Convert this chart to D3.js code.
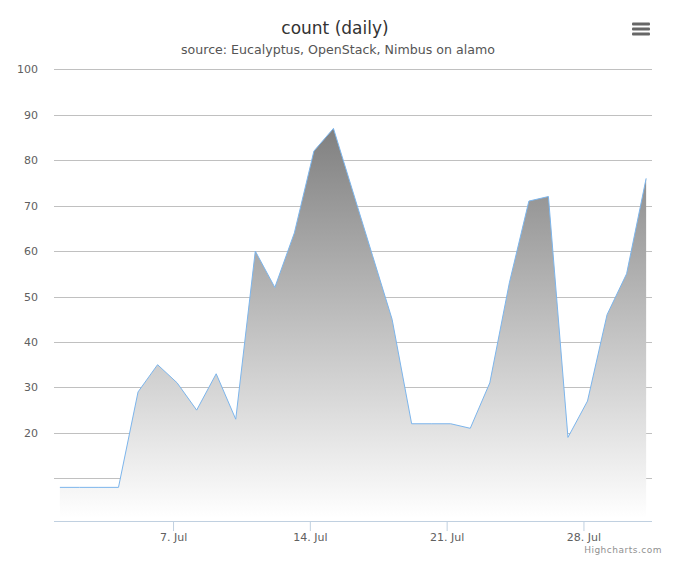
<!DOCTYPE html>
<html><head><meta charset="utf-8">
<script src="https://cdn.jsdelivr.net/npm/d3@7"></script>
<style>
body{margin:0;background:#fff}
svg{display:block;font-family:"DejaVu Sans",sans-serif}
</style>
</head><body>
<svg id="chart" width="680" height="566"></svg>
<script>
// ---- data ----
const titleText = "count (daily)";
const subtitleText = "source: Eucalyptus, OpenStack, Nimbus on alamo";
const dayOfMonth = [1,2,3,4,5,6,7,8,9,10,11,12,13,14,15,16,17,18,19,20,21,22,23,24,25,26,27,28,29,30,31];
const counts = [8,8,8,8,29,35,31,25,33,23,60,52,64,82,87,73,59,45,22,22,22,21,31,53,71,72,19,27,46,55,76];
const xTickDays = [7,14,21,28];
const xTickLabels = ["7. Jul","14. Jul","21. Jul","28. Jul"];
const yTicks = [10,20,30,40,50,60,70,80,90,100];
const yTickLabels = ["","20","30","40","50","60","70","80","90","100"];

const YEAR = 2013, MONTH = 6, HOUR = 5;
const data = dayOfMonth.map((d,i)=>({date:new Date(Date.UTC(YEAR,MONTH,d,HOUR)), value:counts[i]}));

// ---- layout ----
const plot = {left:54, right:652, top:69.3, bottom:521};
const DAY = 864e5, pad = 0.3*DAY;
const svg = d3.select("#chart");

const x = d3.scaleUtc()
  .domain([+data[0].date - pad, +data[data.length-1].date + pad])
  .range([plot.left, plot.right]);
const y = d3.scaleLinear().domain([0.6, 100]).range([plot.bottom, plot.top]);

// title
svg.append("text").attr("x",335).attr("y",34).attr("text-anchor","middle")
  .attr("font-size",17).attr("fill","#333333").text(titleText);
svg.append("text").attr("x",338).attr("y",54).attr("text-anchor","middle")
  .attr("font-size",12.6).attr("fill","#555555").text(subtitleText);

// menu icon
const menu = svg.append("g").attr("fill","#666");
[0,1,2].forEach(i=>menu.append("rect").attr("x",632).attr("y",22.5+i*5).attr("width",18).attr("height",3).attr("rx",1));

// gridlines + y labels
const yAxis = d3.axisLeft(y).tickValues(yTicks).tickSize(-(plot.right-plot.left))
  .tickFormat((d,i)=>yTickLabels[i]).tickPadding(16);
const gy = svg.append("g").attr("transform",`translate(${plot.left},0)`).call(yAxis);
gy.select(".domain").remove();
gy.selectAll(".tick line").attr("stroke","#C0C0C0").attr("stroke-width",1)
  .attr("shape-rendering","crispEdges");
gy.selectAll(".tick text").attr("fill","#606060").attr("font-size",11)
  .attr("font-family","DejaVu Sans, sans-serif").attr("dy","0.32em");

// gradient
const defs = svg.append("defs");
const grad = defs.append("linearGradient").attr("id","areaGrad")
  .attr("x1",0).attr("y1",0).attr("x2",0).attr("y2",1);
grad.append("stop").attr("offset","0%").attr("stop-color","#808080");
grad.append("stop").attr("offset","100%").attr("stop-color","#ffffff");

const area = d3.area().x(d=>x(d.date)).y0(plot.bottom-3).y1(d=>y(d.value));
svg.append("path").datum(data).attr("d",area).attr("fill","url(#areaGrad)");
const line = d3.line().x(d=>x(d.date)).y(d=>y(d.value));
svg.append("path").datum(data).attr("d",line).attr("fill","none")
  .attr("stroke","#7cb5ec").attr("stroke-width",1).attr("stroke-linejoin","round");

// x axis
const xAxis = d3.axisBottom(x).tickValues(xTickDays.map(d=>new Date(Date.UTC(YEAR,MONTH,d))))
  .tickFormat((d,i)=>xTickLabels[i]).tickSize(10).tickPadding(6);
const gx = svg.append("g").attr("transform",`translate(0,${plot.bottom})`).call(xAxis);
gx.select(".domain").attr("stroke","#C0D0E0").attr("d",`M${plot.left},0.5H${plot.right}`);
gx.selectAll(".tick line").attr("stroke","#C0D0E0");
gx.selectAll(".tick text").attr("fill","#606060").attr("font-size",11)
  .attr("font-family","DejaVu Sans, sans-serif").attr("dy","0");
gx.selectAll(".tick text").attr("y",20);

// credits
svg.append("text").attr("x",662).attr("y",553).attr("text-anchor","end")
  .attr("font-size",9).attr("letter-spacing",0.5).attr("fill","#909090").text("Highcharts.com");
</script>
</body></html>
